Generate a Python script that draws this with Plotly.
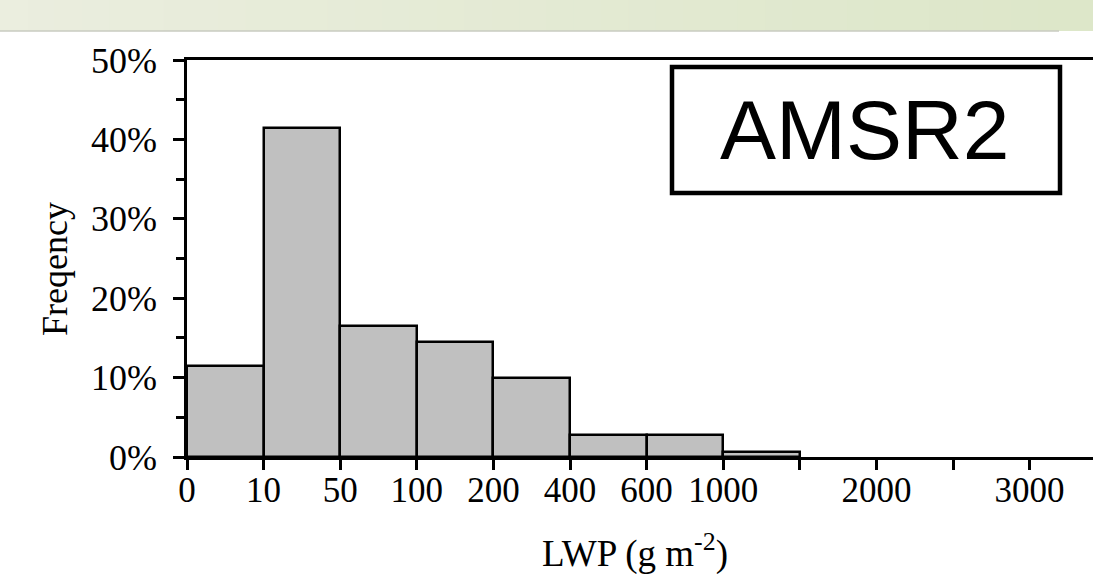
import plotly.graph_objects as go

# ---- data ----
edge_positions = [0, 1, 2, 3, 4, 5, 6, 7, 9, 11]
edge_labels = ["0", "10", "50", "100", "200", "400", "600", "1000", "2000", "3000"]
frequency = [11.4, 41.4, 16.5, 14.5, 9.9, 2.8, 2.8, 0.6]   # percent per LWP bin
y_ticks = [0, 10, 20, 30, 40, 50]
y_tick_labels = ["0%", "10%", "20%", "30%", "40%", "50%"]

W, H = 1093, 574
L, R, T, B = 187, 0, 60, 117

fig = go.Figure()
fig.add_trace(go.Bar(
    x=[i + 0.5 for i in range(len(frequency))],
    y=frequency,
    width=1,
    marker=dict(color="#c0c0c0", line=dict(color="black", width=2.5)),
    showlegend=False,
    hoverinfo="skip",
))

serif = "Liberation Serif, Times New Roman, serif"

fig.update_layout(
    width=W, height=H,
    margin=dict(l=L, r=R, t=T, b=B, pad=0),
    paper_bgcolor="white", plot_bgcolor="white",
    bargap=0,
    font=dict(family=serif, color="black"),
    xaxis=dict(
        range=[0, (W - L) / 76.6],
        tickmode="array",
        tickvals=edge_positions,
        ticktext=edge_labels,
        ticks="outside", ticklen=10, tickwidth=2.5, tickcolor="black",
        minor=dict(tick0=0, dtick=1, ticks="outside", ticklen=10, tickwidth=2.5, tickcolor="black"),
        showline=True, linecolor="black", linewidth=2.5, mirror=True,
        showgrid=False, zeroline=False,
        tickfont=dict(family=serif, size=35, color="black"),
        ticklabelstandoff=-10,
    ),
    yaxis=dict(
        range=[0, 50],
        tickmode="array",
        tickvals=y_ticks,
        ticktext=y_tick_labels,
        ticks="outside", ticklen=11, tickwidth=2.5, tickcolor="black",
        minor=dict(dtick=5, ticks="outside", ticklen=8, tickwidth=2.5, tickcolor="black"),
        showline=True, linecolor="black", linewidth=2.5,
        showgrid=False, zeroline=False,
        tickfont=dict(family=serif, size=36, color="black"),
        ticklabelstandoff=9,
    ),
)

# top decorative green gradient band
n = 40
c0 = (235, 238, 223)
c1 = (221, 231, 201)
band_top = 1 + T / (H - T - B)
band_bot = 1 + (T - 31) / (H - T - B)
x_left = -L / (W - L - R)
x_right = 1.0
for i in range(n):
    f = i / (n - 1)
    col = tuple(int(c0[k] + (c1[k] - c0[k]) * f) for k in range(3))
    xa = x_left + (x_right - x_left) * i / n
    xb = x_left + (x_right - x_left) * (i + 1) / n + 0.002
    fig.add_shape(type="rect", xref="paper", yref="paper",
                  x0=xa, x1=xb, y0=band_bot, y1=band_top,
                  fillcolor="rgb(%d,%d,%d)" % col, line=dict(width=0), layer="below")
fig.add_shape(type="line", xref="paper", yref="paper",
              x0=x_left, x1=(1059 - L) / (W - L - R), y0=band_bot, y1=band_bot,
              line=dict(color="#c8cbc0", width=1.5))

# AMSR2 box
def px(xp):
    return (xp - L) / (W - L - R)

def py(yp):
    return (H - B - yp) / (H - T - B)

fig.add_shape(type="rect", xref="paper", yref="paper",
              x0=px(672), x1=px(1060), y0=py(193), y1=py(67),
              fillcolor="white", line=dict(color="black", width=4.5))
fig.add_annotation(text="AMSR2", xref="paper", yref="paper",
                   x=px(864), y=py(130), xanchor="center", yanchor="middle",
                   showarrow=False,
                   font=dict(family="Liberation Sans, Arial, sans-serif", size=84, color="black"))

# axis titles
fig.add_annotation(text="Freqency", xref="paper", yref="paper",
                   x=px(55), y=py(269), xanchor="center", yanchor="middle",
                   textangle=-90, showarrow=False,
                   font=dict(family=serif, size=36, color="black"))
fig.add_annotation(text="LWP (g m<sup>-2</sup>)", xref="paper", yref="paper",
                   x=px(635), y=py(551), xanchor="center", yanchor="middle",
                   showarrow=False,
                   font=dict(family=serif, size=37, color="black"))

fig.write_html("out.html",
               config={"displayModeBar": False},
               post_script="document.body.style.margin='0';document.body.style.overflow='hidden';")
